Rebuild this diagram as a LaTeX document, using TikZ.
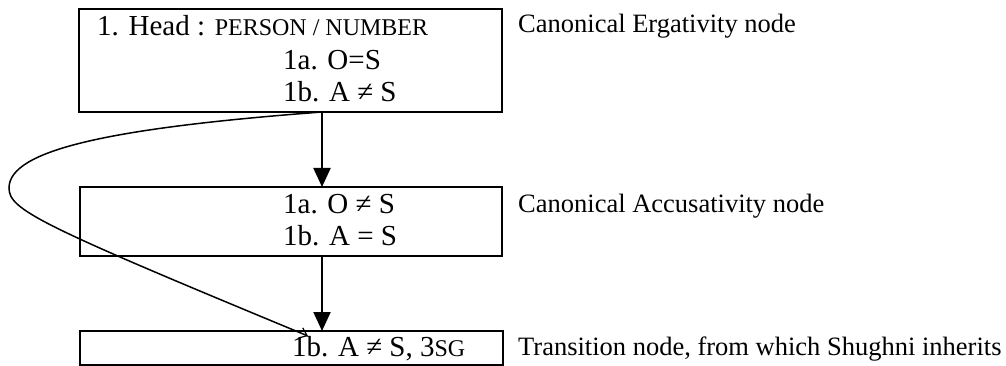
\documentclass[tikz,border=0pt]{standalone}
\usepackage{fontspec}
\setmainfont{Liberation Serif}
\usetikzlibrary{arrows.meta,calc}
\newcommand{\fsc}[1]{{\fontsize{24}{28}\selectfont #1}}
\begin{document}
\begin{tikzpicture}[x=1pt,y=-1pt,
  box/.style={draw,line width=2.8pt,anchor=north west,inner sep=0pt,outer sep=0pt},
  txt/.style={anchor=base west,inner sep=0pt,font=\fontsize{29}{34}\selectfont},
  lbl/.style={anchor=base west,inner sep=0pt,font=\fontsize{26.5}{32}\selectfont},
  arr/.style={line width=2pt,-{Triangle[width=17pt,length=19pt]}},
  curv/.style={line width=1.5pt,-{Straight Barb[length=7pt,width=11pt,line width=1.2pt]}}]
\useasboundingbox (0,0) rectangle (1006,366);
% boxes
\node[box,minimum width=423pt,minimum height=103pt] (b1) at (79,9) {};
\node[box,minimum width=422pt,minimum height=69pt] (b2) at (80,187) {};
\node[box,minimum width=423pt,minimum height=34pt] (b3) at (80,331) {};
% box texts
\node[txt] (h1) at (97,36) {1. Head : \fsc{PERSON / NUMBER}};
\node[txt] (e1) at (283,70) {1a. O=S};
\node[txt] (e2) at (283,102) {1b. A ≠ S};
\node[txt] (c1) at (283,213) {1a. O ≠ S};
\node[txt] (c2) at (283,245) {1b. A = S};
\node[txt] (t1) at (292,356) {1b. A ≠ S, 3\fsc{SG}};
% right labels
\node[lbl] (l1) at (518,33) {Canonical Ergativity node};
\node[lbl] (l2) at (518,212) {Canonical Accusativity node};
\node[lbl] (l3) at (518,355) {Transition node, from which Shughni inherits};
% connectors
\coordinate (ax) at (322,0);
\coordinate (cl) at (9,188);
\coordinate (ce) at (308,336);
\draw[arr] (b1.south -| ax) -- (b2.north -| ax);
\draw[arr] (b2.south -| ax) -- (b3.north -| ax);
\draw[curv] (b1.south -| ax) .. controls (110,128) and (9,150) .. (cl)
  .. controls (9,210) and (40,225) .. (ce);
\end{tikzpicture}
\end{document}
